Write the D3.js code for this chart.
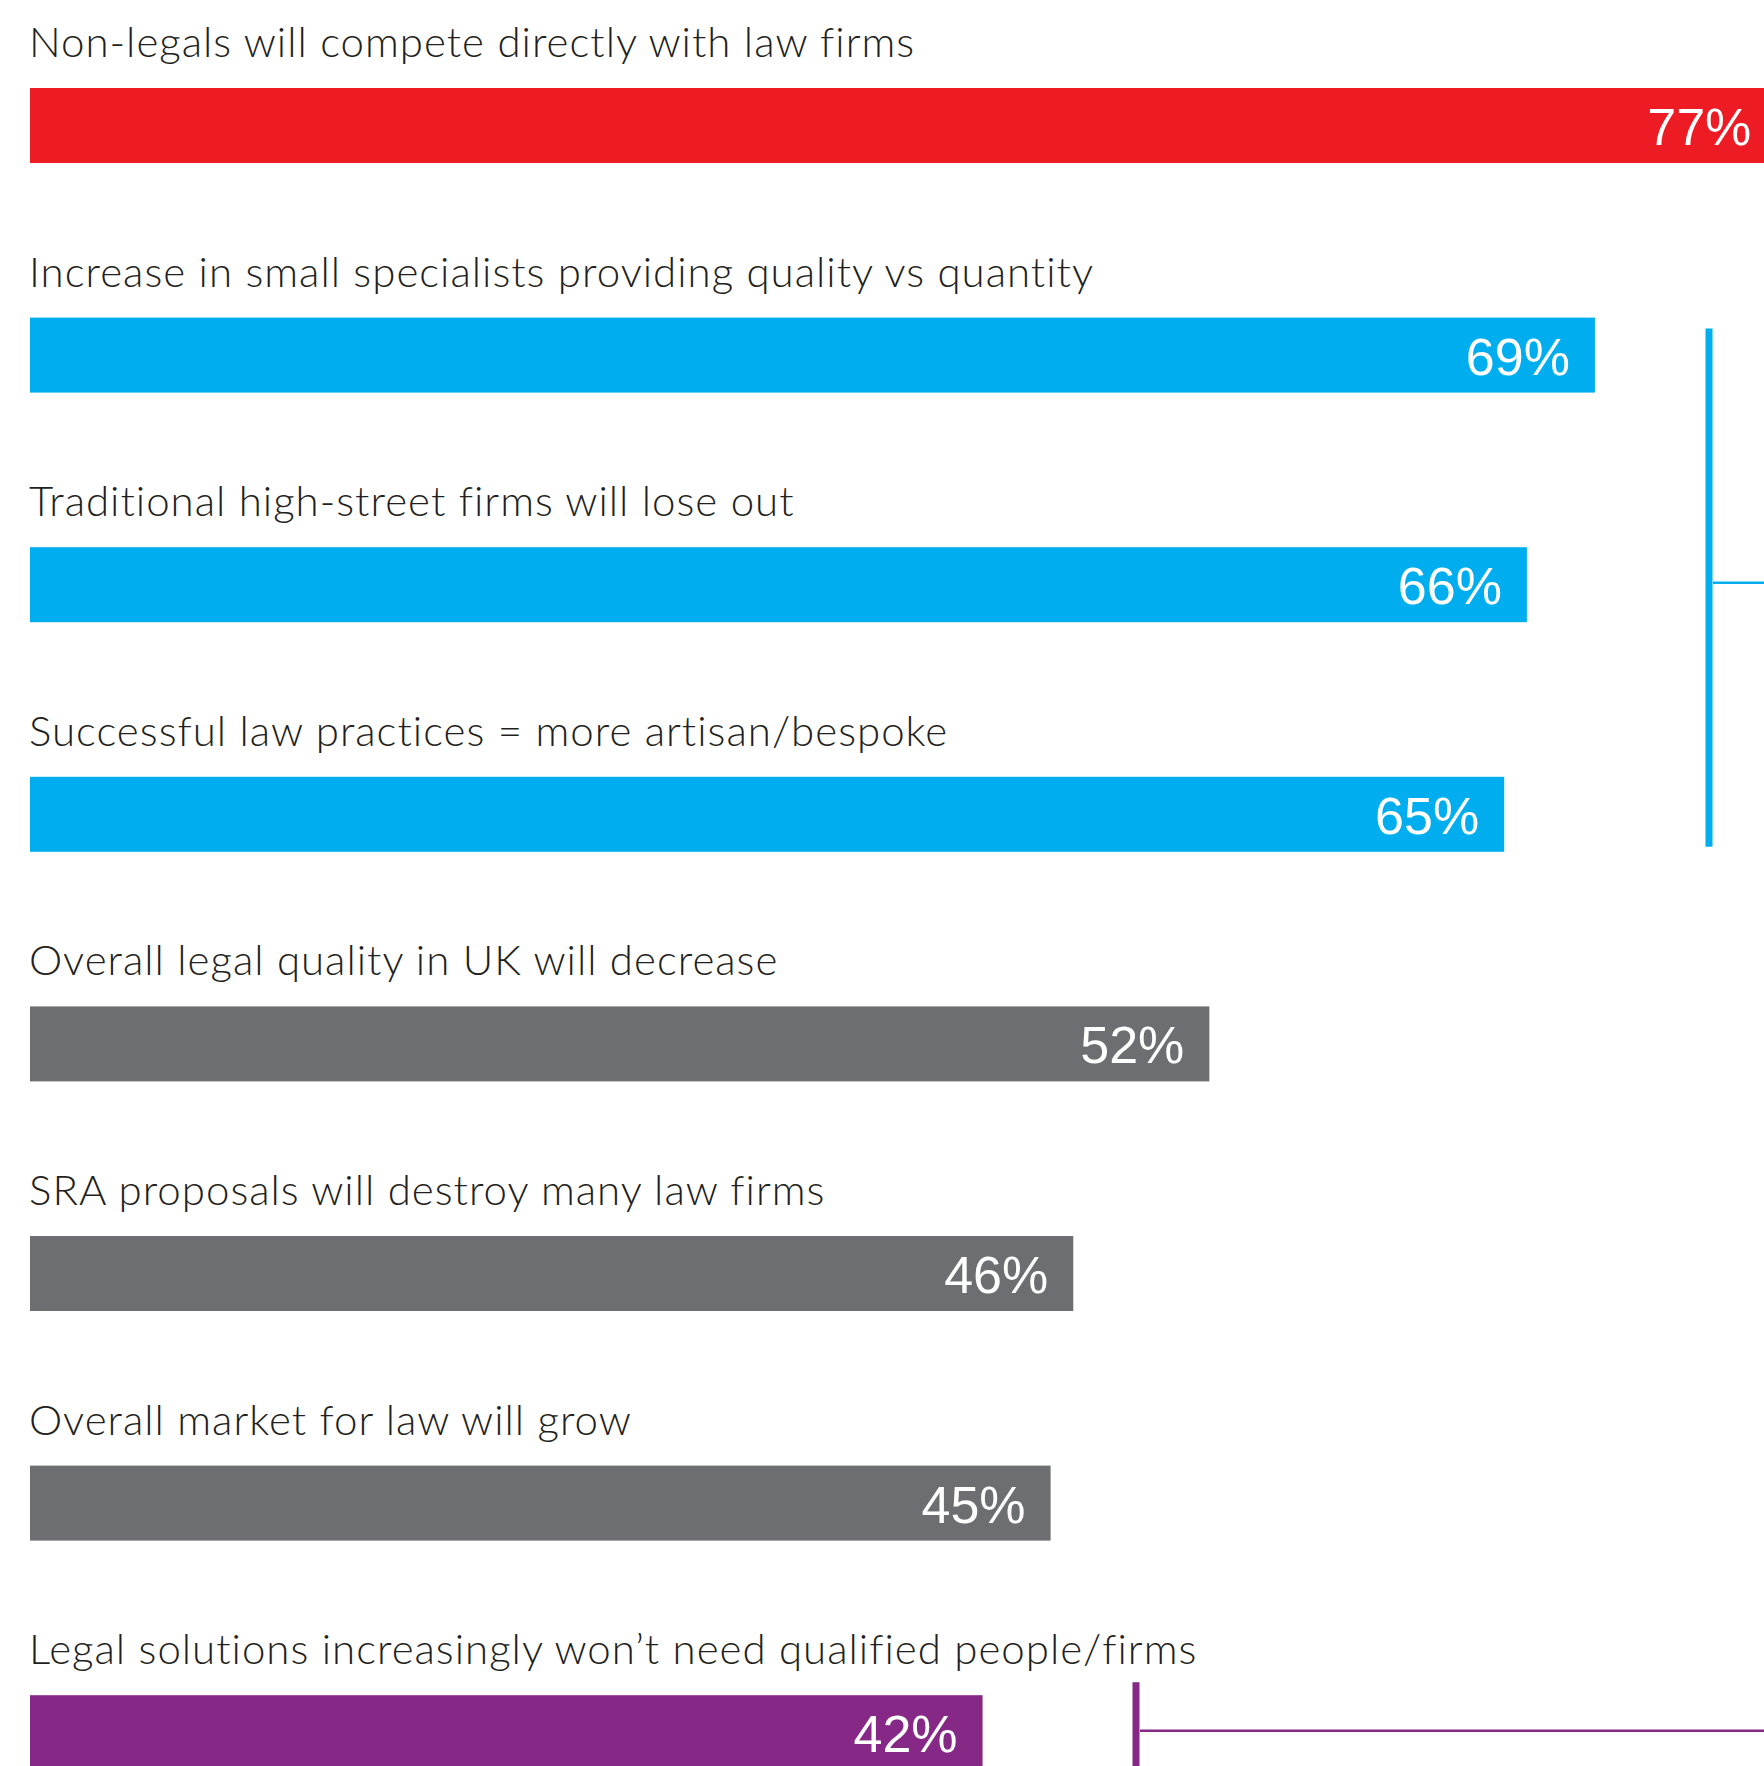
<!DOCTYPE html>
<html>
<head>
<meta charset="utf-8">
<script src="https://cdn.jsdelivr.net/npm/d3@7"></script>
<style>
  html, body { margin: 0; padding: 0; background: #fff; overflow: hidden; }
  svg { display: block; }
</style>
</head>
<body>
<svg id="chart" width="1764" height="1766"></svg>
<script>
// Survey statements and share of respondents agreeing (%)
const statements = [
  "Non-legals will compete directly with law firms",
  "Increase in small specialists providing quality vs quantity",
  "Traditional high-street firms will lose out",
  "Successful law practices = more artisan/bespoke",
  "Overall legal quality in UK will decrease",
  "SRA proposals will destroy many law firms",
  "Overall market for law will grow",
  "Legal solutions increasingly won\u2019t need qualified people/firms"
];
const values = [77, 69, 66, 65, 52, 46, 45, 42];
const groups = ["lead", "specialist", "specialist", "specialist", "neutral", "neutral", "neutral", "tech"];

const groupColor = {
  lead: "#ED1C24",
  specialist: "#00AEEF",
  neutral: "#6D6E71",
  tech: "#862886"
};

const W = 1764, H = 1766;
const svg = d3.select("#chart");

const rowStep = 229.6;
const barH = 75;
const barTop = 88;
const labelBase = 57;

const x = d3.scaleLinear().domain([0, 100]).range([30, 30 + 2268]);
const y = d3.scaleBand()
  .domain(statements)
  .range([0, rowStep * statements.length])
  .paddingInner(0).paddingOuter(0);

const rows = svg.selectAll("g.row")
  .data(statements.map((s, i) => ({ s, v: values[i], g: groups[i] })))
  .join("g")
  .attr("class", "row")
  .attr("transform", d => `translate(0,${y(d.s)})`);

rows.append("text")
  .attr("x", x(0) - 1)
  .attr("y", labelBase)
  .attr("fill", "#231F20")
  .style("font-family", "Lato, 'Open Sans', sans-serif")
  .style("font-weight", 300)
  .style("font-size", "42px")
  .style("letter-spacing", "1px")
  .text(d => d.s);

rows.append("rect")
  .attr("x", x(0))
  .attr("y", barTop)
  .attr("height", barH)
  .attr("width", d => x(d.v) - x(0))
  .attr("fill", d => groupColor[d.g]);

rows.append("text")
  .attr("x", d => x(d.v) - 25)
  .attr("y", barTop + 57)
  .attr("text-anchor", "end")
  .attr("fill", "#fff")
  .style("font-family", "'Liberation Sans', Arial, sans-serif")
  .style("font-size", "52px")
  .text(d => d.v + "%");

// Brackets linking related statements
const brackets = [
  { color: groupColor.specialist, from: 1, to: 3, mid: 2, xPos: 1709, top: 11, bottom: -5 },
  { color: groupColor.tech, from: 7, to: 7, mid: 7, xPos: 1136, top: -13, bottom: null }
];

brackets.forEach(b => {
  const y0 = y(statements[b.from]) + barTop + b.top;
  const y1 = b.bottom === null ? H : y(statements[b.to]) + barTop + barH + b.bottom;
  const ym = y(statements[b.mid]) + barTop + barH / 2 - 2;
  svg.append("line")
    .attr("x1", b.xPos).attr("x2", b.xPos)
    .attr("y1", y0).attr("y2", y1)
    .attr("stroke", b.color).attr("stroke-width", 7);
  svg.append("line")
    .attr("x1", b.xPos + 4).attr("x2", W)
    .attr("y1", ym).attr("y2", ym)
    .attr("stroke", b.color).attr("stroke-width", 2.6);
});
</script>
</body>
</html>
